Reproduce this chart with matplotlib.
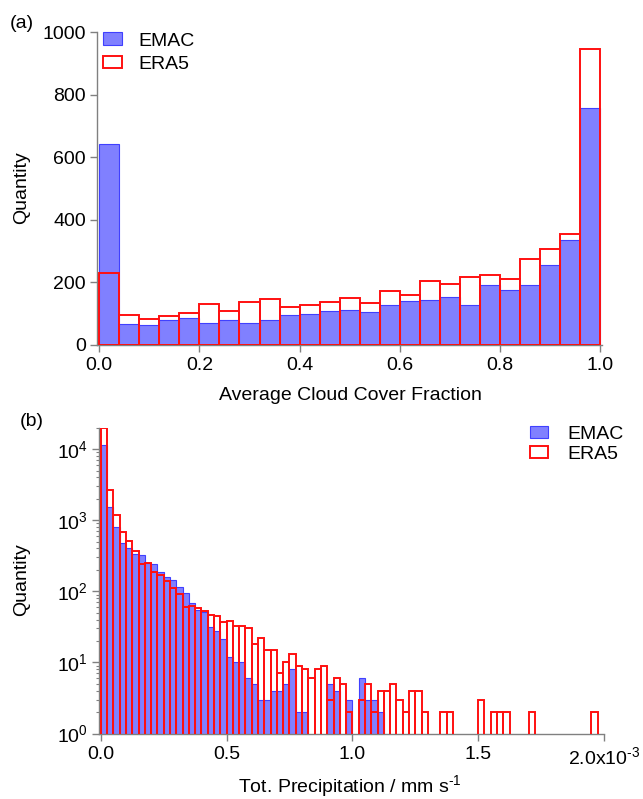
import numpy as np
import matplotlib
matplotlib.use("Agg")
from matplotlib import pyplot as plt
from matplotlib.patches import Patch
from matplotlib.ticker import LogLocator, NullFormatter, NullLocator

plt.rcParams['font.family'] = ['Liberation Sans', 'DejaVu Sans']
plt.rcParams['mathtext.fontset'] = 'custom'
plt.rcParams['mathtext.rm'] = 'Liberation Sans'
plt.rcParams['mathtext.it'] = 'Liberation Sans:italic'
plt.rcParams['mathtext.sf'] = 'Liberation Sans'

# ---------------- data ----------------
# (a) average cloud cover fraction, 25 bins from 0 to 1
cloud_bin_width = 0.04
cloud_emac = [641, 67, 61, 77, 84, 68, 79, 70, 77, 96, 97, 108, 109,
              105, 126, 139, 144, 152, 128, 190, 174, 189, 256, 335, 756]
cloud_era5 = [229, 94, 83, 92, 101, 129, 107, 136, 146, 121, 125, 136, 149,
              133, 172, 157, 202, 195, 217, 222, 211, 274, 306, 353, 947]

# (b) total precipitation (mm s-1), 80 bins from 0 to 2e-3
precip_bin_width = 0.025e-3
precip_emac = [11500, 1525, 797, 484, 404, 332, 324, 253, 240, 189,
               157, 143, 114, 94, 68, 55, 51, 31, 28, 21,
               12, 10, 10, 6, 5, 3, 3, 4, 4, 5,
               8, 2, 2, 0, 0, 0, 5, 4, 0, 3,
               0, 6, 3, 3, 2, 0, 0, 0, 0, 0,
               0, 0, 0, 0, 0, 0, 0, 0, 0, 0,
               0, 0, 0, 0, 0, 0, 0, 0, 0, 0,
               0, 0, 0, 0, 0, 0, 0, 0, 0, 0]
precip_era5 = [19500, 2670, 1200, 684, 506, 373, 240, 248, 185, 168,
               140, 110, 91, 61, 62, 59, 53, 47, 45, 37,
               38, 32, 33, 30, 18, 22, 15, 15, 7, 10,
               13, 9, 8, 6, 8, 9, 3, 6, 5, 2,
               0, 3, 5, 2, 4, 4, 5, 3, 2, 4,
               4, 2, 0, 0, 2, 2, 0, 0, 0, 0,
               3, 0, 2, 2, 2, 0, 0, 0, 2, 0,
               0, 0, 0, 0, 0, 0, 0, 0, 2, 0]

cloud_ticks = [0.0, 0.2, 0.4, 0.6, 0.8, 1.0]
cloud_yticks = [0, 200, 400, 600, 800, 1000]
precip_ticks = [0.0, 0.5e-3, 1.0e-3, 1.5e-3, 2.0e-3]
# hyphen (not a minus) in the exponent, like the original
precip_ticklabels = ['0.0', '0.5', '1.0', '1.5', '2.0x10$^{\u20103}$']

# ---------------- style ----------------
W, H = 643, 799
fs = 14
c_fill = (0.5, 0.5, 1.0)
c_edge = (0.25, 0.25, 1.0)
c_red = '#ff1010'
c_axis = '#808080'


def style_axes(ax):
    for s in ['top', 'right']:
        ax.spines[s].set_visible(False)
    for s in ['left', 'bottom']:
        ax.spines[s].set_color(c_axis)
        ax.spines[s].set_linewidth(1.0)
    ax.tick_params(which='major', direction='out', length=4.8, width=1.0,
                   color=c_axis, labelsize=fs, pad=3.4)
    ax.tick_params(axis='x', which='major', pad=4.5)
    ax.tick_params(which='minor', direction='out', length=2.4, width=0.8,
                   color=c_axis)


fig = plt.figure(figsize=(W / 100, H / 100), dpi=100)

# ---------------- (a) cloud cover ----------------
ax1 = fig.add_axes([97.3 / W, 1 - 344.5 / H, (602 - 97.3) / W, (344.5 - 32) / H])
x_a = np.arange(len(cloud_emac)) * cloud_bin_width
ax1.bar(x_a, cloud_emac, width=cloud_bin_width, align='edge',
        facecolor=c_fill, edgecolor=c_edge, linewidth=0.8, zorder=2)
ax1.bar(x_a, cloud_era5, width=cloud_bin_width, align='edge',
        facecolor='none', edgecolor=c_red, linewidth=1.4, zorder=3)
ax1.set_xlim(-0.004, 1.004)
ax1.set_ylim(0, 1000)
ax1.set_xticks(cloud_ticks)
ax1.set_xticklabels(['%.1f' % t for t in cloud_ticks])
ax1.set_yticks(cloud_yticks)
style_axes(ax1)

leg_handles = [Patch(facecolor=c_fill, edgecolor=c_edge, linewidth=0.8),
               Patch(facecolor='white', edgecolor=c_red, linewidth=1.4)]
fig.legend(leg_handles, ['EMAC', 'ERA5'], loc='upper left',
           bbox_to_anchor=(103 / W, 1 - 32.5 / H), frameon=False,
           fontsize=fs, borderpad=0, borderaxespad=0, labelspacing=0.31,
           handlelength=1.0, handleheight=0.62, handletextpad=0.8)

# ---------------- (b) precipitation ----------------
ax2 = fig.add_axes([99 / W, 1 - 733.5 / H, (604 - 99) / W, (733.5 - 427.7) / H])
x_b = np.arange(len(precip_emac)) * precip_bin_width
emac_b = np.array(precip_emac, dtype=float)
era5_b = np.array(precip_era5, dtype=float)
m1 = emac_b > 0
m2 = era5_b > 0
ax2.bar(x_b[m1], emac_b[m1], width=precip_bin_width, align='edge',
        facecolor=c_fill, edgecolor=c_edge, linewidth=0.8, zorder=2)
ax2.bar(x_b[m2], era5_b[m2], width=precip_bin_width, align='edge',
        facecolor='none', edgecolor=c_red, linewidth=1.4, zorder=3)
ax2.set_yscale('log')
ax2.set_ylim(1, 2e4)
ax2.set_xlim(-0.007e-3, 2.0e-3)
ax2.yaxis.set_major_locator(LogLocator(base=10, numticks=10))
ax2.yaxis.set_minor_locator(LogLocator(base=10, subs=np.arange(2, 10), numticks=20))
ax2.yaxis.set_minor_formatter(NullFormatter())
ax2.set_xticks(precip_ticks)
ax2.set_xticklabels(precip_ticklabels)
ax2.xaxis.set_minor_locator(NullLocator())
style_axes(ax2)

fig.legend(leg_handles, ['EMAC', 'ERA5'], loc='upper left',
           bbox_to_anchor=(530 / W, 1 - 425.5 / H), frameon=False,
           fontsize=fs, borderpad=0, borderaxespad=0, labelspacing=0.18,
           handlelength=0.95, handleheight=0.6, handletextpad=0.95)

# ---------------- labels ----------------
fig.text(21.5 / W, 1 - 23 / H, '(a)', fontsize=fs, ha='center', va='center')
fig.text(31.5 / W, 1 - 422 / H, '(b)', fontsize=fs, ha='center', va='center')
fig.text(22 / W, 1 - 188 / H, 'Quantity', fontsize=fs, rotation=90,
         ha='center', va='center')
fig.text(22 / W, 1 - 580 / H, 'Quantity', fontsize=fs, rotation=90,
         ha='center', va='center')
fig.text(350 / W, 1 - 400 / H, 'Average Cloud Cover Fraction', fontsize=fs,
         ha='center', va='baseline')
fig.text(350 / W, 1 - 792.5 / H, 'Tot. Precipitation / mm s$^{\u20101}$',
         fontsize=fs, ha='center', va='baseline')

fig.savefig('out.png', dpi=100)
